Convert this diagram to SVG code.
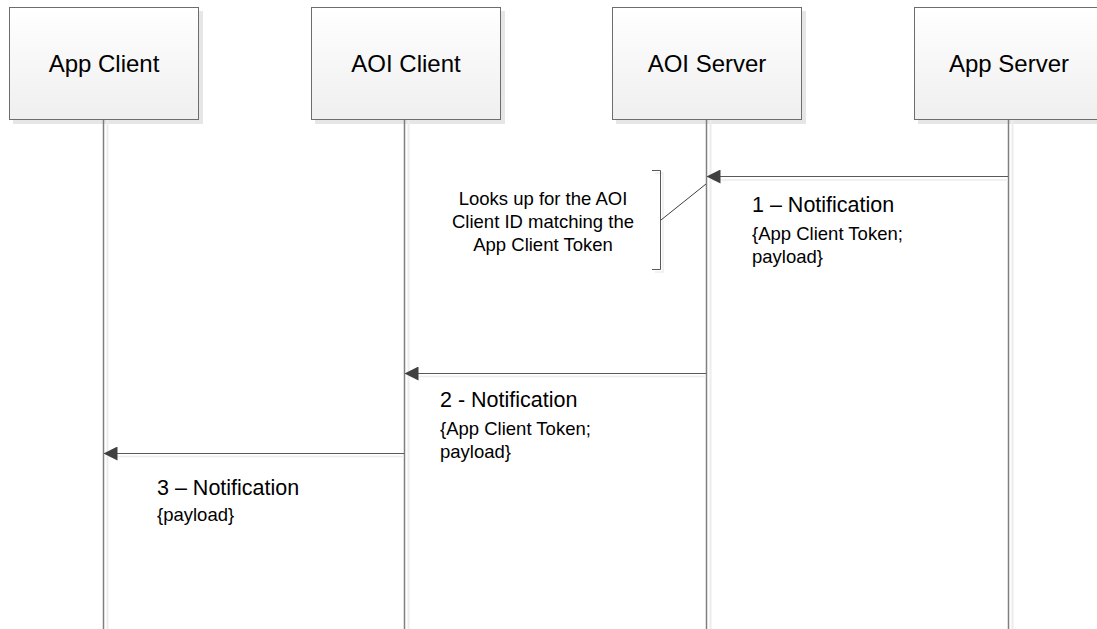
<svg xmlns="http://www.w3.org/2000/svg" width="1097" height="629" viewBox="0 0 1097 629">
<style>
.box{fill:url(#g);stroke:#6d6d6d;stroke-width:1}
.shadow{fill:#e6e6e6}
.life{stroke:#7f7f7f;stroke-width:1.5;fill:none}
.lifes{stroke:#ececec;stroke-width:2;fill:none}
.msg{stroke:#595959;stroke-width:1;fill:none}
.msgs{stroke:#ececec;stroke-width:1.5;fill:none}
.t{font-family:"Liberation Sans",Arial,sans-serif;fill:#000}
.lbl{font-size:24px}
.big{font-size:21.5px}
.small{font-size:18.5px}
.note{font-size:18.5px}
</style>
<defs>
<linearGradient id="g" x1="0" y1="0" x2="0" y2="1">
<stop offset="0" stop-color="#ffffff"/>
<stop offset="1" stop-color="#efefef"/>
</linearGradient>
<marker id="ah" markerWidth="14" markerHeight="14" refX="13.5" refY="7" orient="auto" markerUnits="userSpaceOnUse">
<path d="M0,0 L14,7 L0,14 Z" fill="#404040"/>
</marker>
</defs>

<g id="app-client">
<rect class="shadow" x="13" y="11" width="190" height="113"/>
<rect class="box" x="9.5" y="7.5" width="189" height="112"/>
<text class="t lbl" x="104" y="72" text-anchor="middle">App Client</text>
</g>
<g id="aoi-client">
<rect class="shadow" x="315" y="11" width="190" height="113"/>
<rect class="box" x="311.5" y="7.5" width="189" height="112"/>
<text class="t lbl" x="406" y="72" text-anchor="middle">AOI Client</text>
</g>
<g id="aoi-server">
<rect class="shadow" x="616" y="11" width="190" height="113"/>
<rect class="box" x="612.5" y="7.5" width="189" height="112"/>
<text class="t lbl" x="707" y="72" text-anchor="middle">AOI Server</text>
</g>
<g id="app-server">
<rect class="shadow" x="918" y="11" width="190" height="113"/>
<rect class="box" x="914.5" y="7.5" width="189" height="112"/>
<text class="t lbl" x="1009" y="72" text-anchor="middle">App Server</text>
</g>

<g id="connectors">
<line class="lifes" x1="107.5" y1="120" x2="107.5" y2="629"/>
<line class="lifes" x1="408.5" y1="120" x2="408.5" y2="629"/>
<line class="lifes" x1="710.5" y1="120" x2="710.5" y2="629"/>
<line class="lifes" x1="1012.5" y1="120" x2="1012.5" y2="629"/>
<line class="life" x1="103.5" y1="120" x2="103.5" y2="629"/>
<line class="life" x1="404.5" y1="120" x2="404.5" y2="629"/>
<line class="life" x1="706.5" y1="120" x2="706.5" y2="629"/>
<line class="life" x1="1008.5" y1="120" x2="1008.5" y2="629"/>

<line class="msgs" x1="1008" y1="180" x2="712" y2="180"/>
<line class="msg" x1="1008" y1="176.5" x2="707" y2="176.5" marker-end="url(#ah)"/>
<line class="msgs" x1="706" y1="376.5" x2="410" y2="376.5"/>
<line class="msg" x1="706" y1="373.5" x2="405" y2="373.5" marker-end="url(#ah)"/>
<line class="msgs" x1="404" y1="456.5" x2="109" y2="456.5"/>
<line class="msg" x1="404" y1="453.5" x2="104" y2="453.5" marker-end="url(#ah)"/>
</g>

<g id="note">
<path d="M655,173 L663,173 L663,272 L655,272" fill="none" stroke="#eeeeee" stroke-width="1.5"/>
<path d="M652,170.5 L660.5,170.5 L660.5,269.5 L652,269.5" fill="none" stroke="#595959" stroke-width="1"/>
<line x1="661" y1="220" x2="706" y2="184" stroke="#404040" stroke-width="1"/>
<text class="t note" text-anchor="middle"><tspan x="543" y="205">Looks up for the AOI</tspan><tspan x="543" y="228">Client ID matching the</tspan><tspan x="543" y="251">App Client Token</tspan></text>
</g>

<g id="label-1">
<text class="t big" x="752" y="212">1 – Notification</text>
<text class="t small" x="752" y="240">{App Client Token;</text>
<text class="t small" x="752" y="263">payload}</text>
</g>
<g id="label-2">
<text class="t big" x="440" y="407">2 - Notification</text>
<text class="t small" x="440" y="435">{App Client Token;</text>
<text class="t small" x="440" y="458">payload}</text>
</g>
<g id="label-3">
<text class="t big" x="157" y="495">3 – Notification</text>
<text class="t small" x="157" y="521">{payload}</text>
</g>
</svg>
